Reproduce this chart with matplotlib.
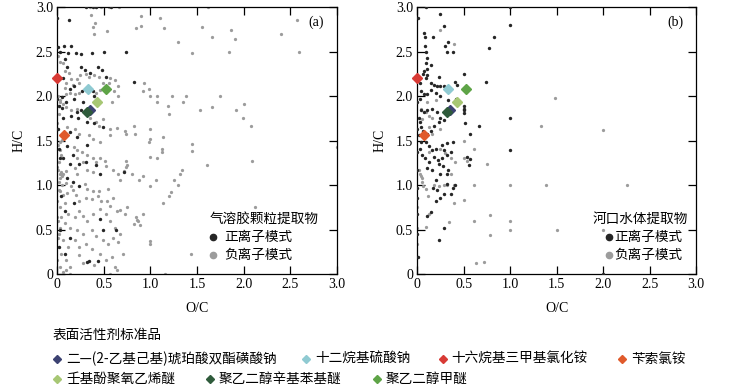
import matplotlib
matplotlib.use("Agg")
import matplotlib.pyplot as plt
from matplotlib.lines import Line2D
import numpy as np

plt.rcParams['font.family'] = ['Liberation Serif', 'Noto Sans CJK SC', 'DejaVu Sans']
plt.rcParams['axes.unicode_minus'] = False

# ---------------- data (O/C, H/C) ----------------
a_pos = [(0,2.88),(0.125,2.86),(0.154,2.57),(0.075,2.56),(0.014,2.55),(0.03,2.50),(0.12,2.49),(0.2,2.49),
         (0.26,2.47),(0.37,2.49),(0.5,2.5),(0.74,2.5),(0.08,2.42),(0.107,2.33),(0.26,2.33),(0.44,2.33),
         (0.30,2.30),(0.35,2.26),(0.48,2.29),(0.52,2.22),(0.83,2.16),(0.06,2.2),(0.136,2.08),(0.18,2.11),
         (0.27,2.06),(0.315,2.07),(0.39,2.06),(0.057,1.99),(0.1,1.94),(0.18,1.97),(0.28,1.93),(0.4,2.0),
         (0.057,1.87),(0.018,1.89),(0.21,1.82),(0.255,1.84),(0.064,1.76),(0.147,1.78),(0.225,1.75),
         (0.326,1.71),(0.49,1.65),(0.40,1.70),(0.136,1.60),(0.21,1.54),(0.11,1.44),(0.32,1.45),(0.17,1.34),
         (0.064,1.30),(0.24,1.24),(0.136,1.24),(0.31,1.26),(0.415,1.23),(0.46,1.13),(0.72,1.15),(0.11,1.08),
         (0.17,1.04),(0.24,0.99),(0.047,0.875),(0.18,0.80),(0.082,0.71),(0.46,0.62),(0.036,0.49),(0.14,0.41),
         (0.49,0.50),(0.63,0.49),(0.32,0.14),(0.34,0.15),(0.44,0.15),(0.02,0.30),(0.086,0.23),(0.315,3.0),
         (0.38,3.0),(0.42,3.0),(0.58,3.0),(0,1.97),(0.014,1.63),(0.02,1.41),(0.03,1.30)]

a_neg = [(0.35,3.0),(0.42,3.0),(0.47,3.0),(0.56,3.0),(0.66,3.0),
         (0.36,2.91),(0.41,2.82),(0.39,2.78),(0.54,2.73),(0.40,2.70),(0.85,2.77),(0.9,2.9),(1.1,2.88),
         (0.9,2.79),(1.15,2.77),(1.3,2.61),(1.45,2.49),(1.55,2.78),(1.66,2.67),(1.87,2.75),(1.91,2.64),
         (1.84,2.50),(1.62,3.0),(2.4,2.70),(2.57,2.86),(2.6,2.50),
         (0.01,2.45),(0.03,2.39),(0.06,2.37),(0.09,2.28),(0.13,2.26),(0.15,2.19),(0.21,2.19),(0.25,2.24),
         (0.31,2.25),(0.34,2.22),(0.40,2.24),(0.45,2.22),(0.57,2.2),(0.62,2.18),(0.65,2.12),(0.56,2.15),
         (0.49,2.15),(0.23,2.15),(0.1,2.15),(0.17,2.13),(0.08,2.09),(0.14,2.04),(0.1,2.03),(0.23,2.04),
         (0.19,2.02),(0.42,2.04),(0.46,2.07),(0.61,2.06),(0.65,2.0),(0.59,1.94),(0.93,2.15),(0.92,2.06),
         (0.99,2.08),(1.0,2.0),(1.07,2.0),(1.07,1.94),(1.23,2.0),(1.19,1.89),(1.2,1.80),(1.35,1.93),
         (1.38,2.0),(1.53,1.85),(1.75,2.0),(1.66,1.88),(1.92,1.84),(2.0,1.91),(1.99,1.75),(2.08,1.66),
         (2.09,1.27),(1.61,1.23),(1.45,1.46),(1.45,1.38),(2.12,0.75),(3.0,1.43),(1.44,0.22),(1.0,0.37),
         (1.0,0.34),(1.16,0.0),(0.14,0.0),
         (0.03,1.96),(0.036,1.93),(0.02,1.89),(0.064,1.91),(0.1,1.88),(0.15,1.85),(0.21,1.86),(0.32,1.82),
         (0.35,1.76),(0.42,1.71),(0.45,1.66),(0.49,1.74),(0.57,1.63),(0.64,1.64),(0.73,1.61),(0.74,1.58),
         (0.82,1.66),(0.84,1.58),(1.0,1.63),(1.0,1.52),(0.99,1.49),(1.14,1.54),(0.57,1.56),(0.34,1.56),
         (0.39,1.52),(0.46,1.49),(0.19,1.63),(0.24,1.58),(0.11,1.65),(0.09,1.56),(0.05,1.51),(0.03,1.48),
         (0.01,1.45),(0.03,1.39),(0.046,1.34),(0.02,1.26),(0.01,1.17),(0.03,1.13),(0.04,1.12),(0.05,1.10),
         (0.035,1.08),(0.02,1.04),(0.06,1.12),(0.045,1.15),
         (0.18,1.43),(0.21,1.39),(0.27,1.37),(0.32,1.34),(0.38,1.30),(0.42,1.26),(0.46,1.31),(0.51,1.27),
         (0.53,1.21),(0.6,1.17),(0.655,1.12),(0.68,1.06),(0.74,1.27),(0.745,1.23),(0.74,1.20),(0.72,1.16),
         (0.8,1.12),(0.88,1.06),(0.92,1.10),(1.0,1.32),(1.07,1.30),(1.13,1.41),(1.125,1.37),(1.0,0.99),
         (1.06,1.06),(1.25,1.06),(1.3,1.0),(1.32,1.12),(1.34,1.17),(0.21,1.30),(0.28,1.26),(0.19,1.19),
         (0.32,1.17),(0.39,1.15),(0.1,1.16),(0.21,1.12),(0.1,1.02),(0.15,0.99),(0.3,1.01),(0.32,0.96),
         (0.39,0.93),(0.45,0.93),(0.55,0.96),
         (0.03,0.93),(0.064,0.89),(0.107,0.91),(0.17,0.94),(0.2,0.89),(0.24,0.82),(0.315,0.86),(0.37,0.84),
         (0.44,0.88),(0.476,0.82),(0.54,0.82),(0.60,0.86),(0.566,0.76),(0.64,0.71),(0.67,0.72),(0.745,0.75),
         (0.73,0.67),(0.85,0.64),(0.87,0.60),(0.82,0.56),(0.89,0.55),(0.08,0.80),(0.03,0.75),(0.12,0.67),
         (0.19,0.64),(0.24,0.71),(0.28,0.65),(0.32,0.60),(0.39,0.67),(0.46,0.73),(0.53,0.67),(0.566,0.60),
         (0.62,0.52),(0.67,0.45),(0.047,0.64),(0.036,0.52),(0.08,0.57),(0.136,0.52),(0.21,0.49),(0.28,0.45),
         (0.37,0.49),(0.42,0.43),(0.49,0.38),(0.55,0.34),(0.60,0.41),(0.655,0.36),(0.02,0.45),(0.064,0.38),
         (0.12,0.30),(0.19,0.38),(0.24,0.30),(0.315,0.34),(0.37,0.28),(0.46,0.23),(0.53,0.155),(0.59,0.19),
         (0.71,0.23),(0.043,0.23),(0.1,0.155),(0.143,0.08),(0.24,0.21),(0.28,0.12),(0.40,0.10),(0.616,0.08),
         (0.645,0.044),(0.03,0.08),(0.064,0.026),(0.1,0.044),(0.566,0.0),(0,0.30),(0,0.155),(0,0.82),
         (0,0.64),(1.14,0.8),(1.2,0.88),(1.22,0.92),(0.92,0.67),(0.86,0.61),
         (0.01,2.0),(0.02,1.8),(0.0,1.7),(0.015,0.6),(0.01,0.4),(0.02,0.95),(0.0,1.2),(0.05,1.0)]

b_pos = [(0.007,2.88),(0.093,3.0),(0.25,2.92),(0.29,2.79),(0.07,2.71),(0.08,2.67),(0.17,2.67),(0.086,2.57),
         (0.30,2.56),(0.33,2.61),(0.32,2.50),(0.38,2.50),(0.093,2.50),(0.83,2.67),(0.77,2.54),(1.0,2.80),
         (0.107,2.43),(0.09,2.37),(0.143,2.35),(0.1,2.31),(0.07,2.28),(0.057,2.25),(0.107,2.24),(0.09,2.21),
         (0.23,2.22),(0.50,2.25),(0.745,2.16),(0.41,2.16),(0.43,2.13),(0.143,2.15),(0.18,2.13),(0.21,2.12),
         (0.25,2.11),(0.29,2.11),(0.03,2.15),(0.043,2.06),(0.03,1.97),(0.07,2.02),(0.107,2.03),(0.143,2.07),
         (0.2,2.04),(0.25,2.0),(0.33,1.96),(0.415,1.97),(0.5,1.89),(0.5,1.86),(0.5,1.84),(0.5,1.81),
         (0.036,1.85),(0.07,1.82),(0.107,1.84),(0.16,1.86),(0.21,1.82),(0.25,1.76),(0.29,1.73),(0.23,1.71),
         (0.18,1.67),(0.143,1.61),(0.107,1.58),(0.07,1.54),(0.018,1.76),(0.03,1.71),(0.043,1.65),(0.064,1.61),
         (0.021,1.56),(0.036,1.49),(0.09,1.49),(0.125,1.44),(0.16,1.39),(0.2,1.41),(0.27,1.45),(0.32,1.47),
         (0.29,1.39),(0.315,1.34),(0.27,1.30),(0.22,1.28),(0.18,1.32),(0.125,1.26),(0.08,1.30),(0.054,1.34),
         (0.03,1.41),(0.107,1.19),(0.16,1.17),(0.23,1.24),(0.28,1.22),(0.32,1.12),(0.25,1.12),(0.2,1.06),
         (0.17,0.97),(0.215,0.95),(0.24,0.86),(0.2,0.82),(0.29,0.90),(0.36,0.90),(0.315,1.01),(0.41,1.0),
         (0.51,1.70),(0.66,1.66),(0.57,1.57),(0.54,1.32),(0.565,1.29),(0.555,1.23),(1.0,1.75),(1.0,1.39),
         (0.39,1.48),(0.365,1.37),(0.33,1.17),(0.39,0.97),(0.143,0.70),(0.107,0.65),(0.29,0.52),(0.23,0.38),
         (0.007,0.19),(0,0.45),(0,0.86),(0,0.67),(0,0.97),(0,1.93),(0,1.63),(0,1.37),(0,1.17),(2.0,0.0),
         (1.0,3.0)]

b_neg = [(0.24,2.75),(0.4,2.59),(0.107,1.93),(0.2,1.96),(0.036,1.86),(0.09,1.82),(0.125,1.78),(0.16,1.76),
         (0.054,1.74),(0.125,1.65),(0.25,1.63),(0.16,1.58),(0.125,1.37),(0.25,1.41),(0.30,1.36),(0.36,1.30),
         (0.41,1.26),(0.5,1.30),(0.54,1.27),(0.61,1.41),(0.5,1.50),(0.75,1.24),(0.36,1.12),(0.29,1.0),
         (0.23,0.99),(0.18,1.0),(0.018,1.17),(0.03,1.13),(0.036,1.10),(0.047,1.08),(0.054,1.04),(0.064,0.99),
         (0.09,0.96),(0.61,1.0),(1.0,1.0),(1.38,1.0),(2.26,1.0),(1.33,1.66),(2.0,1.62),(1.48,1.98),
         (0.4,1.0),(0.32,1.0),(0.5,0.83),(0.4,0.80),(0.34,0.59),(0.61,0.60),(1.0,0.60),(0.78,0.66),
         (1.0,0.50),(1.5,0.50),(2.0,0.50),(0.78,0.44),(0.63,0.12),(0.72,0.14),(0.125,0.67),(0.09,0.53),
         (0,0.34),(0,0.75),(0,0.52),(0.115,0.88)]

std_names = ['二—(2-乙基己基)琥珀酸双酯磺酸钠', '十二烷基硫酸钠', '十六烷基三甲基氯化铵', '苄索氯铵',
             '壬基酚聚氧乙烯醚', '聚乙二醇辛基苯基醚', '聚乙二醇甲醚']
std_oc = [0.35, 0.33, 0.0, 0.075, 0.43, 0.32, 0.52]
std_hc = [1.85, 2.08, 2.21, 1.56, 1.94, 1.82, 2.08]
std_colors = ['#3c4272', '#8fcad2', '#d83a35', '#e05a2b', '#a7c774', '#2f5b3b', '#5ea447']

ticks = [0, 0.5, 1.0, 1.5, 2.0, 2.5, 3.0]
tick_labels = ['0', '0.5', '1.0', '1.5', '2.0', '2.5', '3.0']

mode_labels = ['正离子模式', '负离子模式']
panels = [('(a)', '气溶胶颗粒提取物', a_pos, a_neg), ('(b)', '河口水体提取物', b_pos, b_neg)]

POS_C = '#262626'
NEG_C = '#9c9c9c'
CJK = ['Noto Sans CJK SC', 'Liberation Serif']

fig = plt.figure(figsize=(7.32, 3.87), dpi=100)
axes_rects = [[0.078, 0.292, 0.382, 0.689], [0.570, 0.292, 0.381, 0.689]]
# legend layout (axes fractions): title x, marker x, text x
leg_layout = [(0.546, 0.556, 0.596), (0.627, 0.688, 0.708)]

for rect, lay, (tag, title, pos, neg) in zip(axes_rects, leg_layout, panels):
    ax = fig.add_axes(rect)
    nx, ny = zip(*neg)
    px, py = zip(*pos)
    ax.scatter(nx, ny, s=5.5, c=NEG_C, linewidths=0, zorder=2)
    ax.scatter(px, py, s=6, c=POS_C, linewidths=0, zorder=3)
    for i in [0, 5, 4, 1, 6, 2, 3]:
        ax.plot(std_oc[i], std_hc[i], marker='D', ms=5.2, color=std_colors[i], mec=std_colors[i],
                ls='none', zorder=5, clip_on=False)
    ax.set_xlim(0, 3.0)
    ax.set_ylim(0, 3.0)
    ax.set_xticks(ticks)
    ax.set_xticklabels(tick_labels)
    ax.set_yticks(ticks)
    ax.set_yticklabels(tick_labels)
    ax.tick_params(direction='in', top=True, right=True, length=5.5, width=0.9, labelsize=10, pad=3)
    for sp in ax.spines.values():
        sp.set_linewidth(0.9)
    ax.set_xlabel('O/C', fontsize=10, labelpad=8)
    ax.set_ylabel('H/C', fontsize=10, labelpad=7)
    ax.text(0.955, 0.945, tag, transform=ax.transAxes, ha='right', va='center', fontsize=10)
    tx, mx, lx = lay
    ax.text(tx, 0.207, title, transform=ax.transAxes, ha='left', va='center', fontsize=9.8, family=CJK)
    for yy, lab, col in zip([0.137, 0.070], mode_labels, [POS_C, NEG_C]):
        ax.plot([mx], [yy], marker='o', ms=4.5, color=col, ls='none', transform=ax.transAxes, clip_on=False)
        ax.text(lx, yy, lab, transform=ax.transAxes, ha='left', va='center', fontsize=9.8, family=CJK)

# bottom legend of standards
fig.text(0.0724, 0.134, '表面活性剂标准品', fontsize=9.8, va='center', ha='left', family=CJK)
rows = [(0.072, [(0, 0.078), (1, 0.418), (2, 0.605), (3, 0.850)]),
        (0.021, [(4, 0.078), (5, 0.287), (6, 0.515)])]
for y, items in rows:
    for i, x in items:
        fig.add_artist(Line2D([x], [y], marker='D', ms=3.6, color=std_colors[i], ls='none',
                              transform=fig.transFigure))
        fig.text(x + 0.012, y, std_names[i], fontsize=9.8, va='center', ha='left', family=CJK)

fig.savefig('out.png', dpi=100)
